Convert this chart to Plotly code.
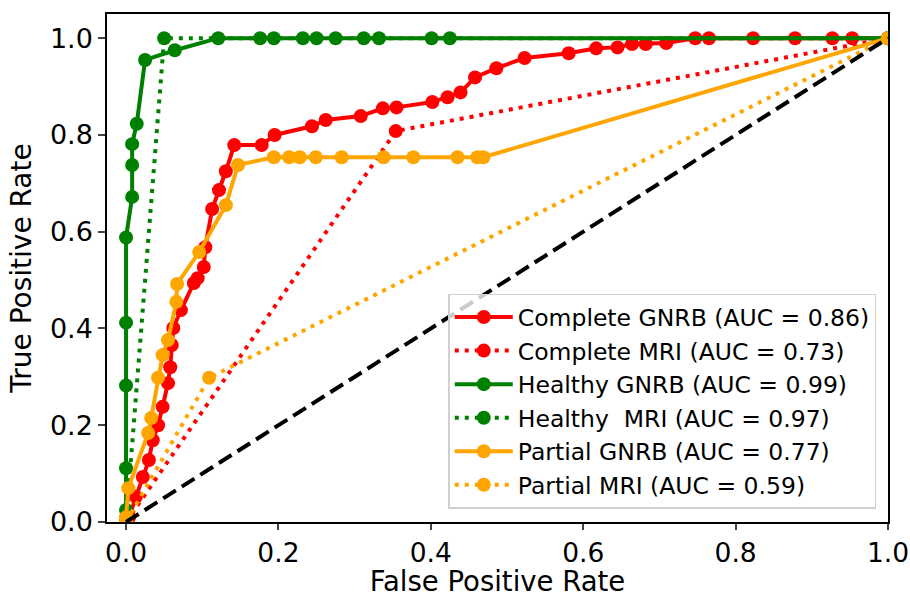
import plotly.graph_objects as go

# Complete GNRB
comp_gnrb_fpr = [0.0, 0.004, 0.013, 0.022, 0.030, 0.035, 0.042, 0.048, 0.055, 0.058, 0.060, 0.062, 0.072,
                 0.089, 0.094, 0.102, 0.104, 0.113, 0.122, 0.131, 0.142, 0.178, 0.195, 0.244, 0.262, 0.308,
                 0.337, 0.355, 0.402, 0.422, 0.439, 0.458, 0.486, 0.523, 0.581, 0.617, 0.645, 0.664, 0.682,
                 0.709, 0.747, 0.765, 0.823, 0.878, 0.927, 0.953, 1.0]
comp_gnrb_tpr = [0.0, 0.010, 0.052, 0.093, 0.128, 0.169, 0.200, 0.238, 0.287, 0.320, 0.366, 0.401, 0.438,
                 0.494, 0.504, 0.527, 0.568, 0.647, 0.686, 0.725, 0.779, 0.779, 0.800, 0.818, 0.831, 0.839,
                 0.855, 0.857, 0.868, 0.878, 0.888, 0.919, 0.938, 0.959, 0.969, 0.979, 0.981, 0.988, 0.988,
                 0.990, 1.0, 1.0, 1.0, 1.0, 1.0, 1.0, 1.0]
# Complete MRI
comp_mri_fpr = [0.0, 0.354, 1.0]
comp_mri_tpr = [0.0, 0.808, 1.0]
# Healthy GNRB
heal_gnrb_fpr = [0.0, 0.0, 0.0, 0.0, 0.0, 0.0, 0.008, 0.008, 0.008, 0.014, 0.025, 0.064, 0.121, 0.176,
                 0.194, 0.232, 0.250, 0.275, 0.312, 0.332, 0.401, 0.425, 1.0]
heal_gnrb_tpr = [0.0, 0.025, 0.111, 0.282, 0.412, 0.588, 0.672, 0.738, 0.781, 0.823, 0.955, 0.975, 1.0,
                 1.0, 1.0, 1.0, 1.0, 1.0, 1.0, 1.0, 1.0, 1.0, 1.0]
# Healthy MRI
heal_mri_fpr = [0.0, 0.050, 1.0]
heal_mri_tpr = [0.0, 1.0, 1.0]
# Partial GNRB
part_gnrb_fpr = [0.0, 0.0, 0.003, 0.029, 0.033, 0.042, 0.048, 0.055, 0.066, 0.067, 0.096, 0.131, 0.147,
                 0.194, 0.214, 0.228, 0.249, 0.283, 0.338, 0.377, 0.435, 0.461, 0.469, 1.0]
part_gnrb_tpr = [0.0, 0.010, 0.070, 0.184, 0.215, 0.298, 0.345, 0.376, 0.455, 0.492, 0.558, 0.655, 0.738,
                 0.754, 0.754, 0.754, 0.754, 0.754, 0.754, 0.754, 0.754, 0.754, 0.754, 1.0]
# Partial MRI
part_mri_fpr = [0.0, 0.109, 1.0]
part_mri_tpr = [0.0, 0.298, 1.0]

names = ["Complete GNRB (AUC = 0.86)", "Complete MRI (AUC = 0.73)", "Healthy GNRB (AUC = 0.99)",
         "Healthy  MRI (AUC = 0.97)", "Partial GNRB (AUC = 0.77)", "Partial MRI (AUC = 0.59)"]
tick_vals = [0, 0.2, 0.4, 0.6, 0.8, 1.0]
tick_text = ["0.0", "0.2", "0.4", "0.6", "0.8", "1.0"]

series = [
    (comp_gnrb_fpr, comp_gnrb_tpr, "red", "solid"),
    (comp_mri_fpr, comp_mri_tpr, "red", "4px,6px"),
    (heal_gnrb_fpr, heal_gnrb_tpr, "green", "solid"),
    (heal_mri_fpr, heal_mri_tpr, "green", "4px,6px"),
    (part_gnrb_fpr, part_gnrb_tpr, "orange", "solid"),
    (part_mri_fpr, part_mri_tpr, "orange", "4px,6px"),
]

fig = go.Figure()
for (fx, ty, col, dash), nm in zip(series, names):
    fig.add_trace(go.Scatter(
        x=fx, y=ty, mode="lines+markers", name=nm.replace("  ", "\u00a0 "),
        line=dict(color=col, width=4, dash=dash),
        marker=dict(color=col, size=14),
    ))

fig.add_trace(go.Scatter(x=[0, 1], y=[0, 1], mode="lines", showlegend=False,
                         line=dict(color="black", width=4, dash="15px,7px")))

font = "DejaVu Sans, sans-serif"
fig.update_layout(
    width=910, height=597,
    margin=dict(l=107, r=22, t=14, b=75),
    plot_bgcolor="white", paper_bgcolor="white",
    font=dict(family=font, color="black", size=24),
    legend=dict(
        x=0.985, y=0.026, xanchor="right", yanchor="bottom",
        bgcolor="rgba(255,255,255,0.8)", bordercolor="#d0d0d0", borderwidth=1.5,
        font=dict(size=23.5, family=font), itemwidth=58, tracegroupgap=0,
    ),
    xaxis=dict(
        range=[-0.025, 1.0], tickvals=tick_vals, ticktext=tick_text, automargin=False,
        showgrid=False, zeroline=False, showline=True, mirror=True,
        linecolor="black", linewidth=1.5, ticks="outside", ticklen=6, tickwidth=1.5,
        title=dict(text="False Positive Rate", font=dict(size=27.5), standoff=8),
        tickfont=dict(size=26.5),
    ),
    yaxis=dict(
        range=[0, 1.05], tickvals=tick_vals, ticktext=tick_text, automargin=False,
        showgrid=False, zeroline=False, showline=True, mirror=True,
        linecolor="black", linewidth=1.5, ticks="outside", ticklen=7, tickwidth=1.5,
        title=dict(text="True Positive Rate", font=dict(size=28), standoff=10),
        tickfont=dict(size=27),
    ),
)

fig.write_html("out.html", config={"displayModeBar": False},
               post_script="document.body.style.margin='0';document.body.style.overflow='hidden';")
